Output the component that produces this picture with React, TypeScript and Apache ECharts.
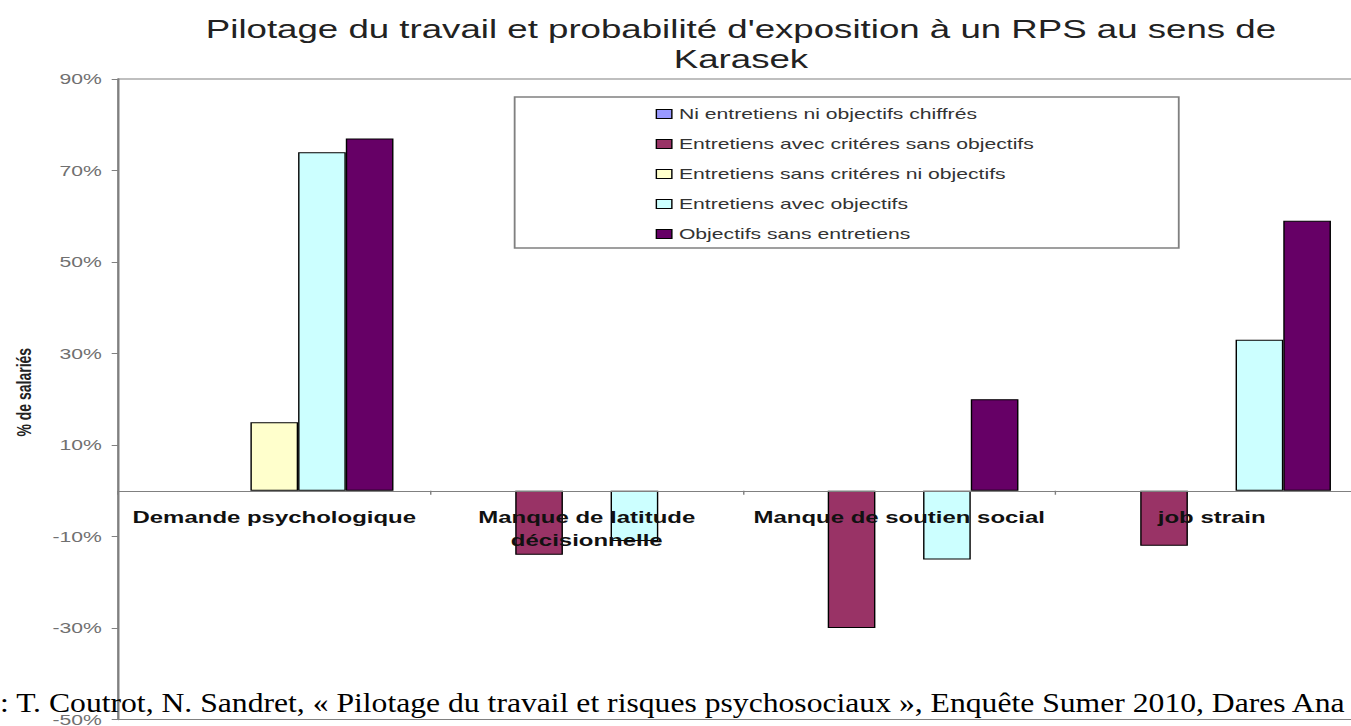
import React, { useEffect, useRef } from "react";
import * as echarts from "echarts";

const categories = [
  "Demande psychologique",
  "Manque de latitude\ndécisionnelle",
  "Manque de soutien social",
  "job strain",
];
const seriesNames = [
  "Ni entretiens ni objectifs chiffrés",
  "Entretiens avec critéres sans objectifs",
  "Entretiens sans critéres ni objectifs",
  "Entretiens avec objectifs",
  "Objectifs sans entretiens",
];
const niEntretiensNiObjectifs = [0, 0, 0, 0];
const entretiensCriteresSansObjectifs = [0, -14, -30, -12];
const entretiensSansCriteres = [15, 0, 0, 0];
const entretiensAvecObjectifs = [74, -11, -15, 33];
const objectifsSansEntretiens = [77, 0, 20, 59];
const seriesColors = ["#9999FF", "#993366", "#FFFFCC", "#CCFFFF", "#660066"];
const yTicks = { min: -50, max: 90, interval: 20 };

const titleText =
  "Pilotage du travail et probabilité d'exposition à un RPS au sens de\nKarasek";
const yAxisTitle = "% de salariés";
const sourceText =
  ": T. Coutrot, N. Sandret, « Pilotage du travail et risques psychosociaux », Enquête Sumer 2010, Dares Ana";

const STRETCH = 1.41;
const CHART_W = 1051;
const CHART_H = 726;
const FONT = 'Arial, "Liberation Sans", sans-serif';

const GRID_TOP = 79;
const GRID_H = 640.5;
// distance from the grid bottom (min) up to the zero line, so the category axis sits on zero
const ZERO_OFFSET = (GRID_H * (0 - yTicks.min)) / (yTicks.max - yTicks.min);

export default function App() {
  const ref = useRef<HTMLDivElement>(null);

  useEffect(() => {
    if (!ref.current) return;
    const chart = echarts.init(ref.current, undefined, { renderer: "svg" });
    const data = [
      niEntretiensNiObjectifs,
      entretiensCriteresSansObjectifs,
      entretiensSansCriteres,
      entretiensAvecObjectifs,
      objectifsSansEntretiens,
    ];
    chart.setOption({
      animation: false,
      backgroundColor: "#ffffff",
      title: {
        text: titleText,
        left: "center",
        top: 9,
        textStyle: {
          fontFamily: FONT,
          fontSize: 26,
          fontWeight: "normal",
          color: "#222",
          lineHeight: 30,
        },
      },
      legend: {
        orient: "vertical",
        left: 465,
        top: 106.5,
        padding: 0,
        itemGap: 15,
        itemWidth: 11,
        itemHeight: 9,
        icon: "rect",
        data: seriesNames,
        itemStyle: { borderColor: "#000", borderWidth: 1 },
        textStyle: { fontFamily: FONT, fontSize: 15, color: "#333" },
      },
      grid: {
        left: 83.7,
        top: GRID_TOP,
        width: 886.5,
        height: GRID_H,
        outerBoundsMode: "none",
        containLabel: false,
        show: true,
        borderColor: "#808080",
        borderWidth: 1,
        backgroundColor: "transparent",
      },
      xAxis: {
        type: "category",
        data: categories,
        z: 5,
        position: "bottom",
        offset: -ZERO_OFFSET,
        axisLine: { onZero: false, lineStyle: { color: "#808080", width: 1 } },
        axisTick: { show: true, length: 4, lineStyle: { color: "#808080" } },
        axisLabel: {
          interval: 0,
          margin: 15,
          fontFamily: FONT,
          fontSize: 17,
          fontWeight: "bold",
          color: "#111",
          lineHeight: 23,
        },
      },
      yAxis: {
        type: "value",
        min: yTicks.min,
        max: yTicks.max,
        interval: yTicks.interval,
        name: yAxisTitle,
        nameLocation: "middle",
        nameGap: 59,
        nameRotate: 90,
        nameTextStyle: {
          fontFamily: FONT,
          fontSize: 14,
          fontWeight: "bold",
          color: "#222",
          padding: [0, 0, 0, 14],
        },
        splitLine: { show: false },
        axisLine: { show: true, lineStyle: { color: "#808080", width: 1.5 } },
        axisTick: { show: true, length: 4.5, lineStyle: { color: "#808080" } },
        axisLabel: {
          formatter: "{value}%",
          margin: 11.5,
          fontFamily: FONT,
          fontSize: 15,
          color: "#707070",
        },
      },
      series: seriesNames.map((name, i) => ({
        name,
        type: "bar",
        data: data[i].map((v) =>
          v === 0 ? { value: v, itemStyle: { borderWidth: 0 } } : v
        ),
        barGap: "0%",
        barCategoryGap: "23.7%",
        itemStyle: { color: seriesColors[i], borderColor: "#000", borderWidth: 1 },
      })),
      graphic: [
        {
          type: "rect",
          shape: { x: 365, y: 97, width: 471, height: 151 },
          style: { fill: "none", stroke: "#808080", lineWidth: 1.3 },
          z: 1,
        },
        {
          type: "text",
          x: 0,
          y: 716.5,
          scaleX: 0.802,
          z: 100,
          style: {
            text: sourceText,
            font: '28px "Liberation Serif", "Times New Roman", serif',
            fill: "#000",
            textVerticalAlign: "bottom",
          },
        },
      ],
    });
    return () => chart.dispose();
  }, []);

  return (
    <div
      style={{
        position: "fixed",
        left: 0,
        top: 0,
        width: 1351,
        height: 726,
        overflow: "hidden",
        background: "#fff",
      }}
    >
      <div
        ref={ref}
        style={{
          width: CHART_W,
          height: CHART_H,
          transform: `scaleX(${STRETCH})`,
          transformOrigin: "0 0",
        }}
      />
    </div>
  );
}
